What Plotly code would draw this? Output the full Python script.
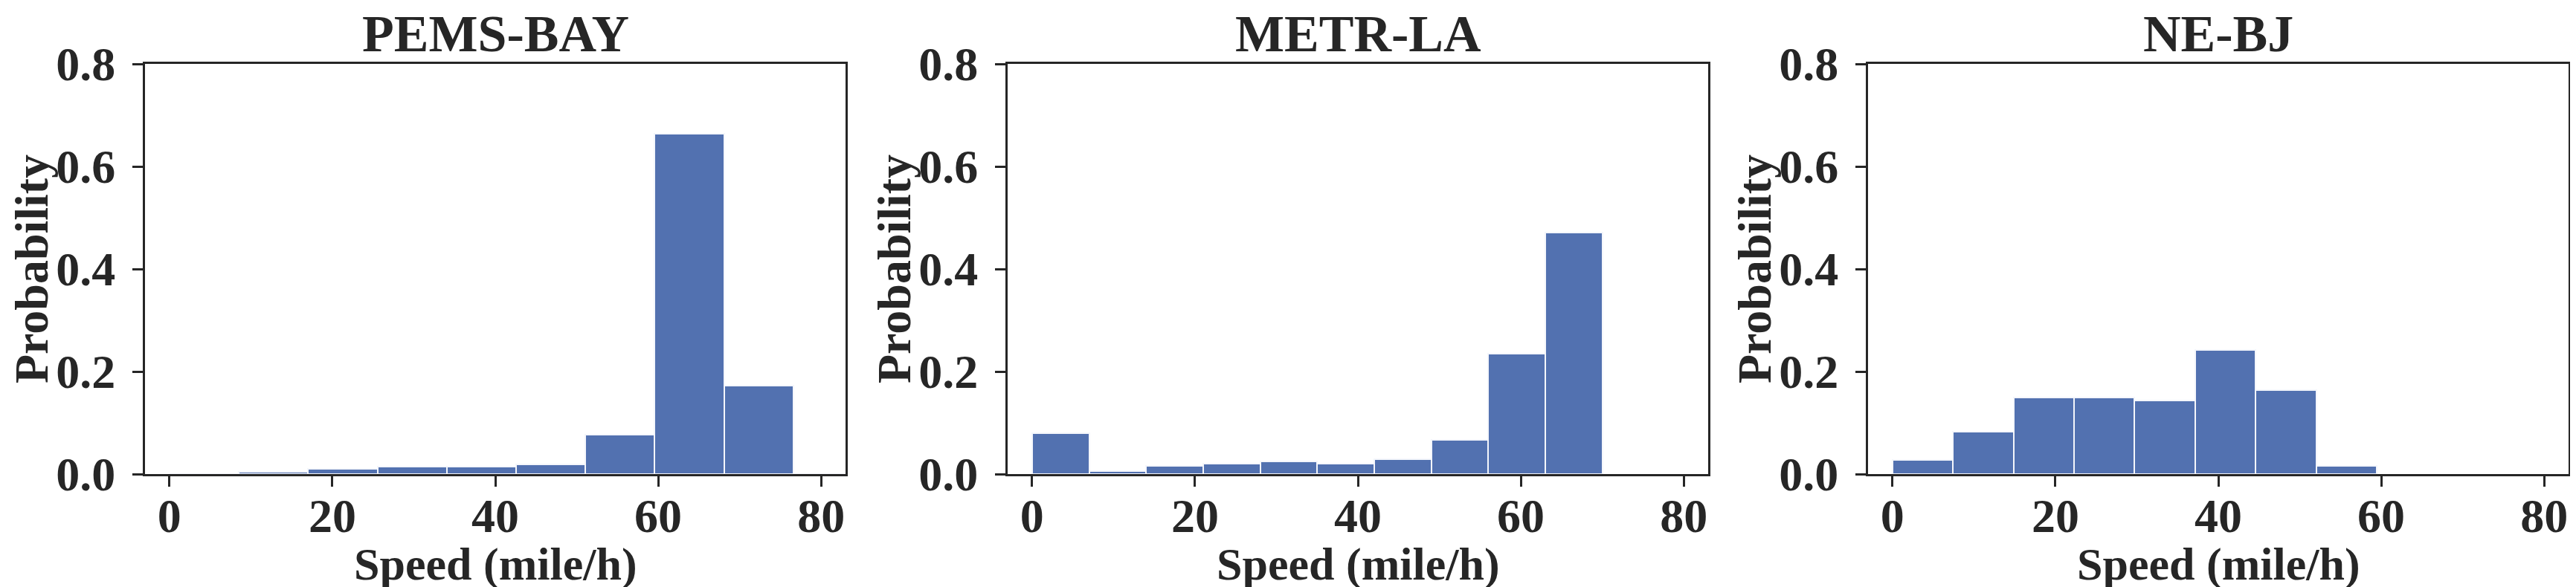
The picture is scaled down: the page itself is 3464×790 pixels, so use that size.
import plotly.graph_objects as go

# speed histograms (probability per bin)
datasets = ["PEMS-BAY", "METR-LA", "NE-BJ"]

pems_edges = [0, 8.51, 17.02, 25.53, 34.04, 42.55, 51.06, 59.57, 68.08, 76.59, 85.1]
pems_prob = [0.0005, 0.0045, 0.0105, 0.0145, 0.0145, 0.0185, 0.0775, 0.664, 0.172, 0.0]

metr_edges = [0, 7, 14, 21, 28, 35, 42, 49, 56, 63, 70]
metr_prob = [0.0795, 0.0065, 0.0165, 0.021, 0.024, 0.020, 0.0285, 0.0665, 0.235, 0.471]

nebj_edges = [0, 7.43, 14.86, 22.29, 29.72, 37.15, 44.58, 52.01, 59.44]
nebj_prob = [0.027, 0.083, 0.150, 0.150, 0.143, 0.2425, 0.1635, 0.016]

x_ticks = [0, 20, 40, 60, 80]
y_ticks = [0.0, 0.2, 0.4, 0.6, 0.8]

W, H = 3464, 790
FONT = "Liberation Serif"
INK = "#262626"

# axes boxes in pixels (left, right), shared top/bottom
boxes = [(187, 1129), (1347, 2289), (2504, 3446)]
top, bottom = 78, 630

fig = go.Figure()

all_edges = [pems_edges, metr_edges, nebj_edges]
all_prob = [pems_prob, metr_prob, nebj_prob]

axis_font = dict(family=FONT, size=64, color=INK, weight="bold")

for i, (edges, prob) in enumerate(zip(all_edges, all_prob)):
    centers = [(a + b) / 2 for a, b in zip(edges[:-1], edges[1:])]
    widths = [b - a for a, b in zip(edges[:-1], edges[1:])]
    n = "" if i == 0 else str(i + 1)
    fig.add_trace(go.Bar(
        x=centers, y=prob, width=widths,
        marker=dict(color="#5271B0", line=dict(color="#F4F6FB", width=2)),
        xaxis="x" + n, yaxis="y" + n, showlegend=False,
    ))

    l, r = boxes[i]
    common = dict(
        ticks="outside", ticklen=14, tickwidth=3, tickcolor=INK,
        showline=True, linecolor=INK, linewidth=3, mirror=True,
        showgrid=False, zeroline=False, tickfont=axis_font,
        automargin=False,
    )
    fig.update_layout(**{
        "xaxis" + n: dict(
            domain=[l / W, r / W], range=[-3, 83], anchor="y" + n,
            tickvals=x_ticks, ticklabelstandoff=-16, **common,
        ),
        "yaxis" + n: dict(
            domain=[1 - bottom / H, 1 - top / H], range=[0, 0.8],
            anchor="x" + n, tickvals=y_ticks, tickformat=".1f",
            ticklabelstandoff=10, **common,
        ),
    })
    # panel title
    fig.add_annotation(
        text=datasets[i], x=(l + r) / 2 / W, y=1 - 37 / H,
        xref="paper", yref="paper", xanchor="center", yanchor="middle",
        showarrow=False,
        font=dict(family=FONT, size=70, color=INK, weight="bold"),
    )
    # x axis title
    fig.add_annotation(
        text="Speed (mile/h)", x=(l + r) / 2 / W, y=1 - 751 / H,
        xref="paper", yref="paper", xanchor="center", yanchor="middle",
        showarrow=False, font=dict(family=FONT, size=62, color=INK, weight="bold"),
    )
    # y axis title
    fig.add_annotation(
        text="Probability", x=(l - 152) / W, y=1 - (top + bottom) / 2 / H,
        xref="paper", yref="paper", xanchor="center", yanchor="middle",
        textangle=-90, showarrow=False, font=axis_font,
    )

fig.update_layout(
    width=W, height=H,
    margin=dict(l=0, r=0, t=0, b=0),
    paper_bgcolor="white", plot_bgcolor="white",
    bargap=0,
)

fig.write_html("out.html")
